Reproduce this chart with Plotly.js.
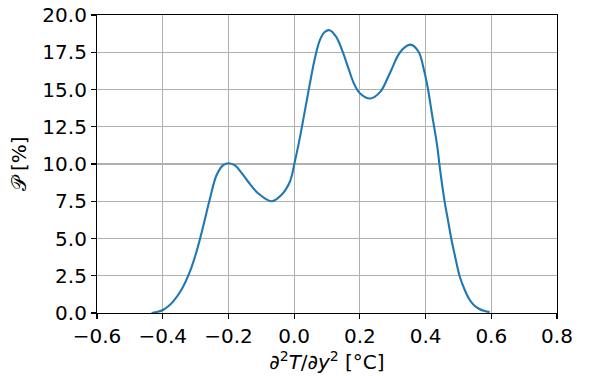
<!DOCTYPE html>
<html>
<head>
<meta charset="utf-8">
<script src="https://cdn.plot.ly/plotly-3.0.1.min.js"></script>
<style>html,body{margin:0;padding:0;background:#fff;}#chart{width:595px;height:376px;}</style>
</head>
<body>
<div id="chart"></div>
<script>
// Probability density of d2T/dy2
const gradValues = [-0.434, -0.415, -0.398, -0.383, -0.368, -0.343, -0.317, -0.297, -0.277, -0.256, -0.236, -0.216, -0.199, -0.180, -0.160, -0.140, -0.110, -0.069, -0.039, -0.013, 0.002, 0.017, 0.032, 0.047, 0.063, 0.078, 0.093, 0.108, 0.128, 0.148, 0.164, 0.182, 0.200, 0.232, 0.262, 0.293, 0.323, 0.354, 0.379, 0.394, 0.407, 0.420, 0.435, 0.445, 0.458, 0.468, 0.478, 0.491, 0.504, 0.519, 0.534, 0.549, 0.564, 0.580, 0.595];
const probValues = [0.00, 0.08, 0.22, 0.45, 0.78, 1.56, 2.79, 4.13, 5.80, 7.70, 9.26, 9.93, 10.05, 9.90, 9.40, 8.81, 8.04, 7.50, 7.92, 8.81, 10.15, 11.72, 13.50, 15.29, 17.08, 18.30, 18.86, 18.98, 18.53, 17.52, 16.50, 15.40, 14.75, 14.40, 14.84, 16.18, 17.52, 18.01, 17.52, 16.41, 15.07, 13.28, 11.27, 9.48, 7.48, 6.25, 5.02, 3.68, 2.45, 1.56, 0.89, 0.49, 0.27, 0.13, 0.06];

const xTickVals = [-0.6, -0.4, -0.2, 0.0, 0.2, 0.4, 0.6, 0.8];
const yTickVals = [0, 2.5, 5, 7.5, 10, 12.5, 15, 17.5, 20];

const fontFamily = "DejaVu Sans, sans-serif";
const trace = {
  x: gradValues,
  y: probValues,
  type: "scatter",
  mode: "lines",
  line: {color: "#1f77b4", width: 2.1, shape: "spline", smoothing: 1.0},
  hoverinfo: "skip"
};

const axisCommon = {
  showline: true,
  linecolor: "#000",
  linewidth: 1.1,
  mirror: true,
  ticks: "outside",
  ticklen: 5,
  tickwidth: 1.1,
  tickcolor: "#000",
  showgrid: true,
  gridcolor: "#b0b0b0",
  gridwidth: 1.1,
  zeroline: false,
  tickfont: {family: fontFamily, size: 20, color: "#000"},
  automargin: false
};

const layout = {
  width: 595,
  height: 376,
  margin: {l: 97, r: 37.5, t: 14.7, b: 62.7, pad: 0},
  paper_bgcolor: "#fff",
  plot_bgcolor: "#fff",
  showlegend: false,
  font: {family: fontFamily, color: "#000"},
  xaxis: Object.assign({}, axisCommon, {
    range: [-0.6, 0.8],
    tickvals: xTickVals,
    tickformat: ".1f",
    title: {text: "∂<sup>2</sup><i>T</i>/∂<i>y</i><sup>2</sup> [°C]", font: {family: fontFamily, size: 20, color: "#000"}, standoff: 4}
  }),
  yaxis: Object.assign({}, axisCommon, {
    range: [0, 20],
    tickvals: yTickVals,
    tickformat: ".1f",
    title: {text: "𝒫\u00a0[%]", font: {family: fontFamily, size: 20, color: "#000"}, standoff: 10}
  })
};

Plotly.newPlot("chart", [trace], layout, {staticPlot: true, displayModeBar: false});
</script>
</body>
</html>
